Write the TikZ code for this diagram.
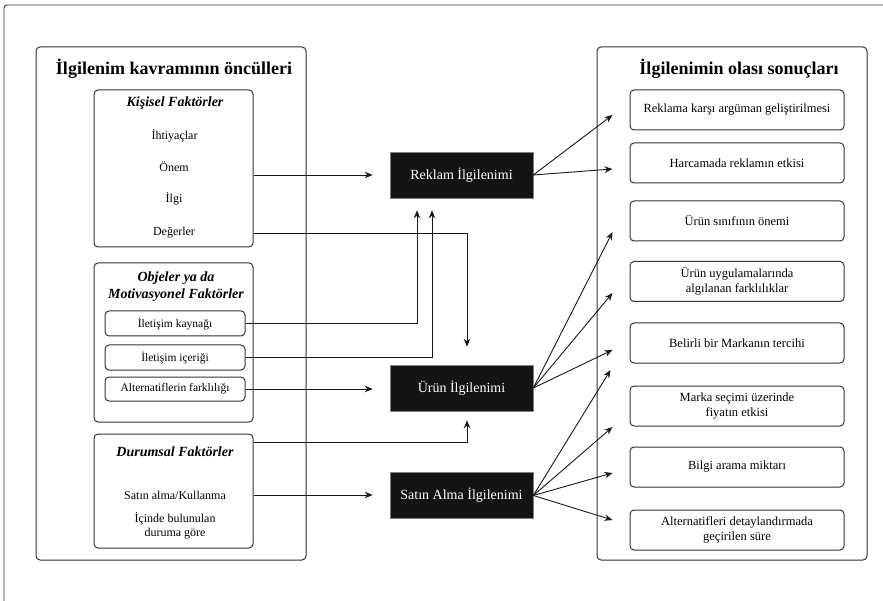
\documentclass[tikz,border=0pt]{standalone}
\usepackage{fontspec}
\setmainfont{Liberation Serif}
\usetikzlibrary{arrows.meta}
\begin{document}
\begin{tikzpicture}[x=1pt,y=-1pt,
  frame/.style={draw=black!80, line width=1pt, rounded corners=4pt, inner sep=0pt},
  bigbox/.style={frame, minimum width=270pt, minimum height=513pt},
  subbox/.style={frame, minimum width=159pt},
  itembox/.style={frame, minimum width=140pt, minimum height=25pt, font=\fontsize{11.5}{13}\selectfont},
  resbox/.style={frame, minimum width=214pt, minimum height=40pt, align=center, font=\fontsize{12.5}{15}\selectfont},
  blk/.style={fill=black!92, draw=black!50, line width=0.6pt, minimum width=143pt, minimum height=46pt, text=white, font=\fontsize{14}{16}\selectfont},
  txt/.style={font=\fontsize{12}{14}\selectfont, align=center, inner sep=0pt},
  ttl/.style={font=\fontsize{18}{21}\selectfont\bfseries, inner sep=0pt},
  subttl/.style={font=\fontsize{14}{17}\selectfont\bfseries\itshape, align=center, inner sep=0pt},
  arr/.style={draw=black!90, line width=0.9pt, -{Stealth[length=8pt,width=6.5pt]}},
  outer/.style={draw=black!80, line width=0.9pt, rounded corners=3pt}
]
\useasboundingbox (0,0) rectangle (883,601);
\coordinate (ob) at (4,601);
\coordinate (oc) at (4,5);
\coordinate (oe) at (883,5);
\draw[outer] (ob) -- (oc) -- (oe);

% left big box
\node[bigbox] (left) at (171,303.5) {};
\node[ttl] (ltitle) at (174,69) {İlgilenim kavramının öncülleri};

\node[subbox, minimum height=157pt] (kisisel) at (173.5,168.5) {};
\node[subttl] (kt) at (175,103) {Kişisel Faktörler};
\node[txt] (ihti) at (174.5,136) {İhtiyaçlar};
\node[txt] (onem) at (174,167) {Önem};
\node[txt] (ilgi) at (174,199) {İlgi};
\node[txt] (deger) at (174,233) {Değerler};

\node[subbox, minimum height=159pt] (objeler) at (173.5,342.5) {};
\node[subttl] (ot) at (176,286.5) {Objeler ya da\\Motivasyonel Faktörler};
\node[itembox] (kaynak) at (175,323.5) {İletişim kaynağı};
\node[itembox] (icerik) at (175,357.5) {İletişim içeriği};
\node[itembox, minimum height=24pt] (alter) at (175,389) {Alternatiflerin farklılığı};

\node[subbox, minimum height=114pt] (durum) at (173.5,491) {};
\node[subttl] (dt) at (175,452) {Durumsal Faktörler};
\node[txt] (satkul) at (175,495) {Satın alma/Kullanma};
\node[txt] (icinde) at (175,526) {İçinde bulunulan\\duruma göre};

% black boxes
\node[blk] (reklam) at (461.5,175) {Reklam İlgilenimi};
\node[blk] (urun) at (461.5,388) {Ürün İlgilenimi};
\node[blk] (satin) at (461.5,495.5) {Satın Alma İlgilenimi};

% right big box
\node[bigbox] (right) at (732,303.5) {};
\node[ttl] (rtitle) at (739,69) {İlgilenimin olası sonuçları};
\node[resbox] (r1) at (737,110) {Reklama karşı argüman geliştirilmesi};
\node[resbox] (r2) at (737,163) {Harcamada reklamın etkisi};
\node[resbox] (r3) at (737,221) {Ürün sınıfının önemi};
\node[resbox] (r4) at (737,281.5) {Ürün uygulamalarında\\algılanan farklılıklar};
\node[resbox] (r5) at (737,343) {Belirli bir Markanın tercihi};
\node[resbox] (r6) at (737,406) {Marka seçimi üzerinde\\fiyatın etkisi};
\node[resbox] (r7) at (737,467) {Bilgi arama miktarı};
\node[resbox] (r8) at (737,530) {Alternatifleri detaylandırmada\\geçirilen süre};

% incoming connectors
\draw[arr, shorten >=17pt] (kisisel.east |- reklam.west) -- (reklam.west);
\draw[arr, shorten >=18pt] (kisisel.east |- deger) -| ([xshift=5.5pt]urun.north);
\draw[arr, shorten >=12pt] (kaynak.east) -| ([xshift=-44.5pt]reklam.south);
\draw[arr, shorten >=12pt] (icerik.east) -| ([xshift=-29.5pt]reklam.south);
\draw[arr, shorten >=17pt] (alter.east) -- (alter.east -| urun.west);
\draw[arr, shorten >=9pt] ([yshift=-9pt]durum.north east) -| ([xshift=5.5pt]urun.south);
\draw[arr, shorten >=17pt] (durum.east |- satkul) -- (satkul -| satin.west);

% outgoing connectors
\draw[arr] (reklam.east) -- ([xshift=-17pt,yshift=-5pt]r1.west);
\draw[arr] (reklam.east) -- ([xshift=-17pt,yshift=-6pt]r2.west);
\draw[arr] (urun.east) -- ([xshift=-17pt,yshift=-11pt]r3.west);
\draw[arr] (urun.east) -- ([xshift=-17pt,yshift=-11.5pt]r4.west);
\draw[arr] (urun.east) -- ([xshift=-17pt,yshift=-7pt]r5.west);
\draw[arr] (satin.east) -- ([xshift=-19pt,yshift=-27pt]r5.west);
\draw[arr] (satin.east) -- ([xshift=-17pt,yshift=-21pt]r6.west);
\draw[arr] (satin.east) -- ([xshift=-17pt,yshift=-6pt]r7.west);
\draw[arr] (satin.east) -- ([xshift=-17pt,yshift=10pt]r8.west);
\end{tikzpicture}
\end{document}
